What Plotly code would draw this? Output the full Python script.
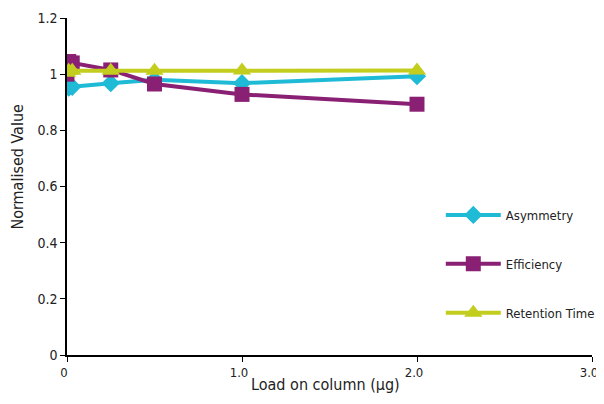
import plotly.graph_objects as go

asym_x = [0.01, 0.03, 0.25, 0.5, 1.0, 2.0]
asym_y = [0.952, 0.955, 0.968, 0.98, 0.968, 0.993]
eff_x = [0.0, 0.01, 0.03, 0.25, 0.5, 1.0, 2.0]
eff_y = [1.0, 1.045, 1.04, 1.015, 0.965, 0.928, 0.893]
ret_x = [0.0, 0.01, 0.03, 0.25, 0.5, 1.0, 2.0]
ret_y = [1.005, 1.012, 1.012, 1.012, 1.012, 1.013, 1.013]
x_ticks = [0, 1.0, 2.0, 3.0]
x_tick_labels = ["0", "1.0", "2.0", "3.0"]

FONT = "DejaVu Sans Condensed, sans-serif"

fig = go.Figure()
fig.add_trace(go.Scatter(x=asym_x, y=asym_y, name="Asymmetry", mode="lines+markers",
                         line=dict(color="#1fbad6", width=4),
                         marker=dict(symbol="diamond", size=14, color="#1fbad6"),
                         legendgroup="a"))
fig.add_trace(go.Scatter(x=eff_x, y=eff_y, name="Efficiency", mode="lines+markers",
                         line=dict(color="#8a2074", width=4),
                         marker=dict(symbol="square", size=15, color="#8a2074"),
                         legendgroup="b"))
fig.add_trace(go.Scatter(x=ret_x, y=ret_y, name="Retention Time", mode="lines+markers",
                         line=dict(color="#c3cd1e", width=4),
                         marker=dict(symbol="triangle-up", size=16, color="#c3cd1e"),
                         legendgroup="c"))

fig.update_layout(
    width=596, height=388,
    margin=dict(l=59, r=12, t=10, b=41, autoexpand=False),
    paper_bgcolor="white", plot_bgcolor="white",
    font=dict(family=FONT, size=14, color="#222"),
    legend=dict(x=0.712, y=0.46, xanchor="left", yanchor="top", itemwidth=55,
                tracegroupgap=29, font=dict(size=13), bgcolor="rgba(0,0,0,0)"),
    xaxis=dict(range=[0, 3.0], tickvals=x_ticks, ticktext=x_tick_labels, automargin=False,
               ticklabeloverflow="allow", ticklabelshift=-3, tickfont=dict(size=13),
               showgrid=False, zeroline=False, showline=True, linecolor="black", linewidth=1.5,
               ticks="outside", ticklen=5, tickcolor="black"),
    yaxis=dict(range=[0, 1.2], dtick=0.2, showgrid=False, zeroline=False, showline=True,
               automargin=False,
               linecolor="black", linewidth=1.5, ticks="outside", ticklen=5, tickcolor="black"),
    annotations=[
        dict(text="Load on column (µg)", xref="paper", yref="paper", x=0.492, y=-0.087,
             xanchor="center", yanchor="middle", showarrow=False, font=dict(size=16)),
        dict(text="Normalised Value", xref="paper", yref="paper", x=-0.094, y=0.558,
             xanchor="center", yanchor="middle", textangle=-90, showarrow=False,
             font=dict(size=16)),
    ],
)

fig.write_html("out.html")
